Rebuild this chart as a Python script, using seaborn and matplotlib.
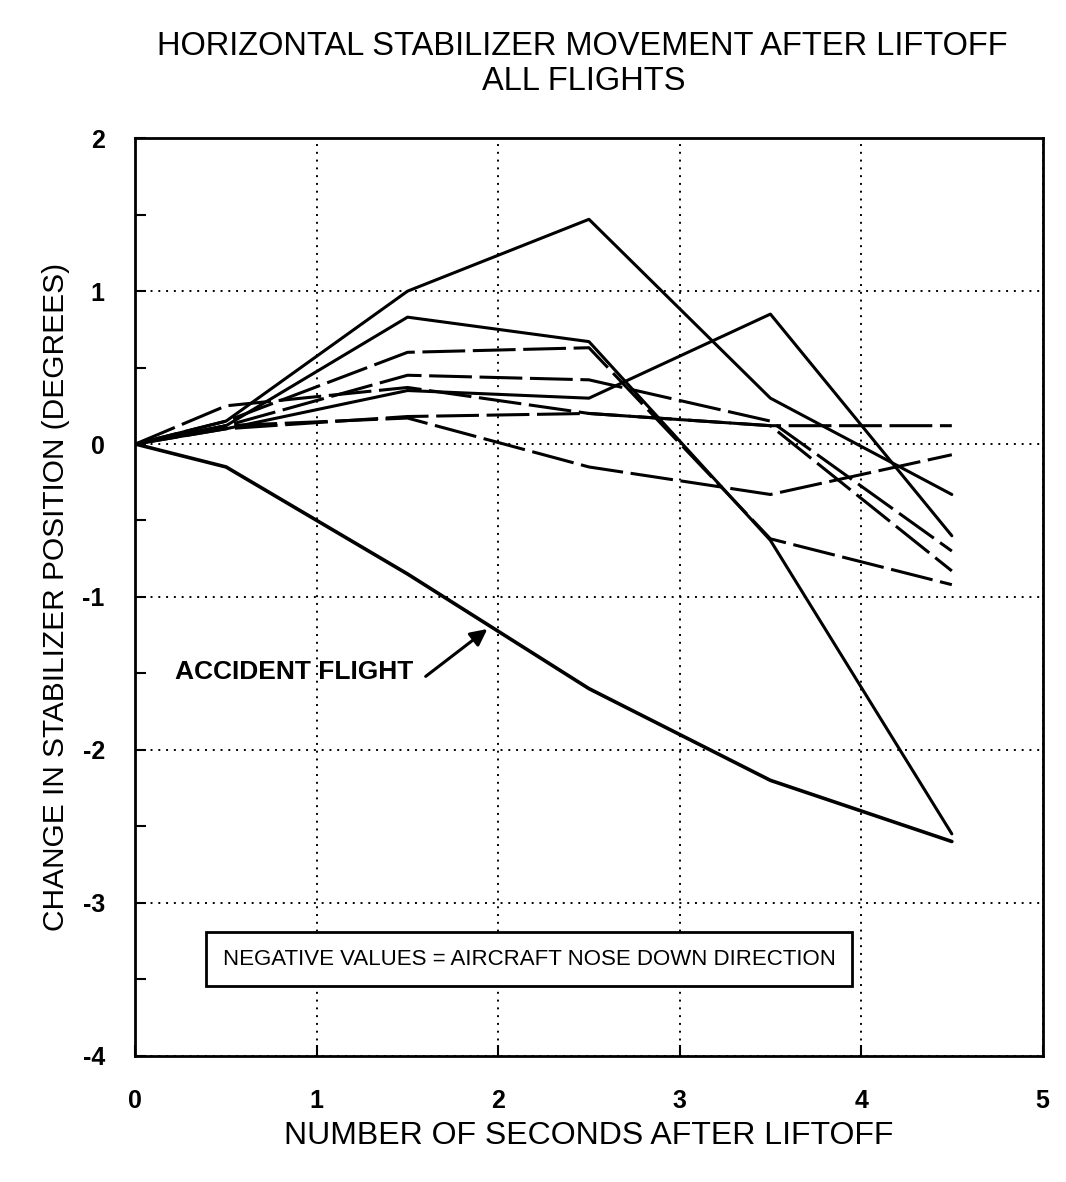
import matplotlib
matplotlib.use('Agg')
from matplotlib import pyplot as plt
import matplotlib.ticker as mtick
import numpy as np
import pandas as pd
import seaborn as sns

# seconds after liftoff at which stabilizer position was sampled
seconds = [0, 0.5, 1.5, 2.5, 3.5, 4.5]

# change in stabilizer position (degrees), one list per flight
accident = [0, -0.15, -0.85, -1.60, -2.20, -2.60]
flight_a = [0, 0.15, 1.00, 1.47, 0.30, -0.33]
flight_b = [0, 0.10, 0.35, 0.30, 0.85, -0.60]
flight_c = [0, 0.12, 0.83, 0.67, -0.63, -2.55]
flight_d = [0, 0.15, 0.60, 0.63, -0.62, -0.92]
flight_e = [0, 0.12, 0.17, -0.15, -0.33, -0.07]
flight_f = [0, 0.10, 0.18, 0.20, 0.12, 0.12]
flight_h = [0, 0.12, 0.45, 0.42, 0.15, -0.70]
flight_i = [0, 0.25, 0.37, 0.20, 0.12, -0.83]

flights = {'accident': accident, 'A': flight_a, 'B': flight_b, 'C': flight_c, 'D': flight_d,
           'E': flight_e, 'F': flight_f, 'H': flight_h, 'I': flight_i}
dashed = ['D', 'E', 'F', 'H', 'I']

rows = []
for name, vals in flights.items():
    for s, v in zip(seconds, vals):
        rows.append({'flight': name, 'seconds': s, 'change': v})
df = pd.DataFrame(rows)

sns.set_theme(style='ticks')
plt.rcParams['font.family'] = ['Liberation Sans', 'DejaVu Sans']
plt.rcParams['axes.unicode_minus'] = False
plt.rcParams['text.color'] = 'black'
plt.rcParams['axes.labelcolor'] = 'black'
plt.rcParams['xtick.color'] = 'black'
plt.rcParams['ytick.color'] = 'black'

fig = plt.figure(figsize=(10.66, 11.82), dpi=100)
ax = fig.add_axes([0.127, 0.107, 0.851, 0.776])

for name in flights:
    sub = df[df['flight'] == name]
    lw = 2.6 if name == 'accident' else 2.2
    sns.lineplot(ax=ax, data=sub, x='seconds', y='change', color='black', linewidth=lw,
                 legend=False, sort=False)
for ln, name in zip(ax.lines, flights):
    if name in dashed:
        ln.set_dashes((14, 2.5))

ax.set_xlim(0, 5)
ax.set_ylim(-4, 2)
ax.xaxis.set_major_locator(mtick.MultipleLocator(1))
ax.yaxis.set_major_locator(mtick.MultipleLocator(1))
ax.yaxis.set_minor_locator(mtick.MultipleLocator(0.5))
ax.grid(True, which='major', color='black', linestyle=(0, (1, 3)), linewidth=1.4)
ax.tick_params(axis='both', which='both', direction='in', length=8, width=1.5, labelsize=18)
ax.tick_params(axis='x', pad=24)
ax.tick_params(axis='y', pad=22)
for lbl in ax.get_xticklabels() + ax.get_yticklabels():
    lbl.set_fontweight('bold')
for sp in ax.spines.values():
    sp.set_linewidth(2)
    sp.set_color('black')

ax.set_xlabel('NUMBER OF SECONDS AFTER LIFTOFF', fontsize=23, labelpad=6)
ax.set_ylabel('CHANGE IN STABILIZER POSITION (DEGREES)', fontsize=21.5)
ax.yaxis.set_label_coords(-0.072, 0.5)

fig.text(0.546, 0.961, 'HORIZONTAL STABILIZER MOVEMENT AFTER LIFTOFF', ha='center', va='center',
         fontsize=23.5)
fig.text(0.548, 0.931, 'ALL FLIGHTS', ha='center', va='center', fontsize=23.5)

ax.text(0.22, -1.49, 'ACCIDENT FLIGHT', fontsize=19, fontweight='bold', va='center', ha='left')
ax.annotate('', xy=(1.94, -1.21), xytext=(1.6, -1.52),
            arrowprops=dict(arrowstyle='-|>', color='black', lw=2.2, mutation_scale=25,
                            shrinkA=0, shrinkB=0))

ax.text(2.17, -3.37, 'NEGATIVE VALUES = AIRCRAFT NOSE DOWN DIRECTION', ha='center', va='center',
        fontsize=16,
        bbox=dict(boxstyle='square,pad=0.75', facecolor='white', edgecolor='black', linewidth=2))

plt.savefig('out.png', dpi=100)
